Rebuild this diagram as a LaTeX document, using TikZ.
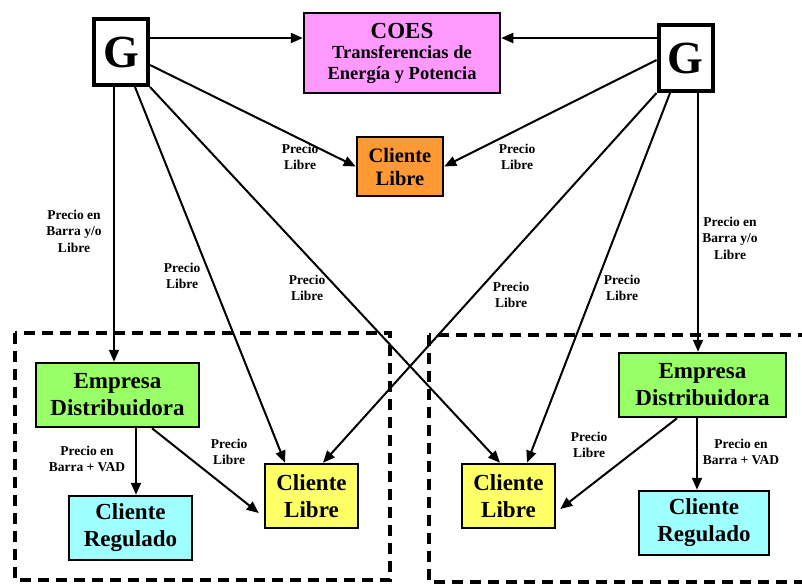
\documentclass[tikz,border=0pt]{standalone}
\usepackage{fontspec}
\setmainfont{Liberation Serif}
\usetikzlibrary{arrows.meta}

\definecolor{coespink}{HTML}{FF99FF}
\definecolor{libreorange}{HTML}{FF9933}
\definecolor{distgreen}{HTML}{99FF66}
\definecolor{libreyellow}{HTML}{FFFF66}
\definecolor{regcyan}{HTML}{A0FFFF}

\tikzset{
  gen/.style={draw, line width=4pt, fill=white, minimum width=54pt, minimum height=66pt,
    inner sep=0pt, font=\fontsize{46}{46}\selectfont\bfseries},
  entity/.style={draw, line width=2.5pt, inner sep=0pt, align=center,
    font=\fontsize{23}{27}\selectfont\bfseries},
  price/.style={align=center, inner sep=0pt, font=\fontsize{13.5}{16.5}\selectfont\bfseries},
  arr/.style={line width=2pt, -{Triangle[length=12pt,width=10pt]}},
  region/.style={line width=4pt, dash pattern=on 11pt off 7pt},
}

\begin{document}
\begin{tikzpicture}[x=1pt,y=-1pt]
\useasboundingbox (0,0) rectangle (802,584);

% market regions
\draw[region] (15,333) rectangle (390,580);
\draw[region] (429,335) rectangle (840,582);

% generators and COES
\node[gen] (g1) at (121,52) {G};
\node[gen] (g2) at (685.5,58) {G};
\node[entity, fill=coespink, minimum width=196pt, minimum height=80pt,
      font=\fontsize{18.5}{20.5}\selectfont\bfseries] (coes) at (402,53)
      {{\fontsize{23}{22}\selectfont COES}\\Transferencias de\\Energía y Potencia};

% top free client
\node[entity, fill=libreorange, minimum width=86pt, minimum height=59pt,
      font=\fontsize{20.5}{23}\selectfont\bfseries] (cl0) at (400,166.5) {Cliente\\Libre};

% distribution companies and clients
\node[entity, fill=distgreen, minimum width=163pt, minimum height=64pt] (ed1) at (117.5,395) {Empresa\\Distribuidora};
\node[entity, fill=distgreen, minimum width=167pt, minimum height=64pt] (ed2) at (702.5,385) {Empresa\\Distribuidora};
\node[entity, fill=libreyellow, minimum width=93pt, minimum height=64pt] (cl1) at (311.5,496) {Cliente\\Libre};
\node[entity, fill=libreyellow, minimum width=93pt, minimum height=64pt] (cl2) at (508.5,496) {Cliente\\Libre};
\node[entity, fill=regcyan, minimum width=123pt, minimum height=64pt] (cr1) at (130.5,528) {Cliente\\Regulado};
\node[entity, fill=regcyan, minimum width=130pt, minimum height=64pt] (cr2) at (704,523) {Cliente\\Regulado};

% flows to COES
\draw[arr] ([yshift=14pt]g1.east) -- ([yshift=15pt]coes.west);
\draw[arr] ([yshift=20pt]g2.west) -- ([yshift=15pt]coes.east);

% flows to the top free client
\draw[arr] ([yshift=-13pt]g1.east) -- (cl0.west);
\draw[arr] ([yshift=-2pt]g2.west) -- (cl0.east);

% generator supply
\draw[arr] ([xshift=-7pt]g1.south) -- ([xshift=-3.5pt]ed1.north);
\draw[arr] ([xshift=14pt]g1.south) -- ([xshift=-26.5pt]cl1.north);
\draw[arr] (g1.south east) -- ([xshift=-8.5pt]cl2.north);
\draw[arr] (g2.south west) -- ([xshift=11.5pt]cl1.north);
\draw[arr] ([xshift=-15.5pt]g2.south) -- ([xshift=18.5pt]cl2.north);
\draw[arr] ([xshift=12.5pt]g2.south) -- ([xshift=-4.5pt]ed2.north);

% distribution supply
\draw[arr] ([xshift=18.5pt]ed1.south) -- ([xshift=5.5pt]cr1.north);
\draw[arr] ([xshift=34.5pt]ed1.south) -- ([xshift=-5pt,yshift=-17pt]cl1.west);
\draw[arr] ([xshift=-5.5pt]ed2.south) -- ([xshift=-7pt]cr2.north);
\draw[arr] ([xshift=-25.5pt]ed2.south) -- ([xshift=4pt,yshift=-13pt]cl2.east);

% price labels
\node[price] (p1) at (300,157) {Precio\\Libre};
\node[price] (p2) at (517,157) {Precio\\Libre};
\node[price] (p3) at (74,231) {Precio en\\Barra y/o\\Libre};
\node[price] (p4) at (730,238) {Precio en\\Barra y/o\\Libre};
\node[price] (p5) at (182,276) {Precio\\Libre};
\node[price] (p6) at (307,288) {Precio\\Libre};
\node[price] (p7) at (511,295) {Precio\\Libre};
\node[price] (p8) at (622,288) {Precio\\Libre};
\node[price] (p9) at (87,459) {Precio en\\Barra + VAD};
\node[price] (p10) at (229,452) {Precio\\Libre};
\node[price] (p11) at (589,445) {Precio\\Libre};
\node[price] (p12) at (741,452) {Precio en\\Barra + VAD};
\end{tikzpicture}
\end{document}
